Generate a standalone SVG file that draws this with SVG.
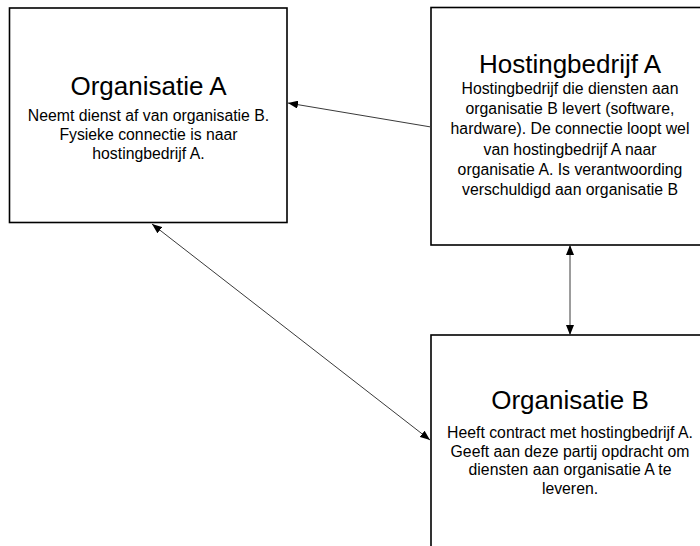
<svg xmlns="http://www.w3.org/2000/svg" width="700" height="546" viewBox="0 0 700 546">
<style>
.box{fill:#fff;stroke:#000;stroke-width:1.6}
.t{font-family:"Liberation Sans",Arial,sans-serif;fill:#000;text-anchor:middle}
.h{font-size:26px}
.b{font-size:15.8px}
.c{stroke:#3a3a3a;stroke-width:1;fill:none}
</style>
<defs>
<marker id="ah" viewBox="0 0 10 8" refX="10" refY="4" markerWidth="10" markerHeight="8" markerUnits="userSpaceOnUse" orient="auto-start-reverse">
<path d="M0,0 L10,4 L0,8 z" fill="#000"/>
</marker>
</defs>
<rect width="700" height="546" fill="#fff"/>
<g id="orgA">
<rect class="box" x="9.5" y="8" width="277.5" height="214.5"/>
<text class="t h" x="148.5" y="95">Organisatie A</text>
<text class="t b" x="148.5" y="120.5">Neemt dienst af van organisatie B.</text>
<text class="t b" x="148.5" y="140">Fysieke connectie is naar</text>
<text class="t b" x="148.5" y="159">hostingbedrijf A.</text>
</g>
<g id="hosting">
<rect class="box" x="431" y="7.5" width="280" height="237.5"/>
<text class="t h" x="570" y="73">Hostingbedrijf A</text>
<text class="t b" x="570" y="94">Hostingbedrijf die diensten aan</text>
<text class="t b" x="570" y="114">organisatie B levert (software,</text>
<text class="t b" x="570" y="134">hardware). De connectie loopt wel</text>
<text class="t b" x="570" y="154.5">van hostingbedrijf A naar</text>
<text class="t b" x="570" y="174.5">organisatie A. Is verantwoording</text>
<text class="t b" x="570" y="194.5">verschuldigd aan organisatie B</text>
</g>
<g id="orgB">
<rect class="box" x="431" y="335" width="280" height="230"/>
<text class="t h" x="570" y="408.5">Organisatie B</text>
<text class="t b" x="570" y="438">Heeft contract met hostingbedrijf A.</text>
<text class="t b" x="570" y="456.5">Geeft aan deze partij opdracht om</text>
<text class="t b" x="570" y="475">diensten aan organisatie A te</text>
<text class="t b" x="570" y="493.5">leveren.</text>
</g>
<g id="connectors">
<line class="c" x1="431" y1="127" x2="288" y2="103" marker-end="url(#ah)"/>
<line class="c" x1="152" y1="224" x2="430" y2="440" marker-start="url(#ah)" marker-end="url(#ah)"/>
<line class="c" x1="570" y1="245" x2="570" y2="335" marker-start="url(#ah)" marker-end="url(#ah)"/>
</g>
</svg>
